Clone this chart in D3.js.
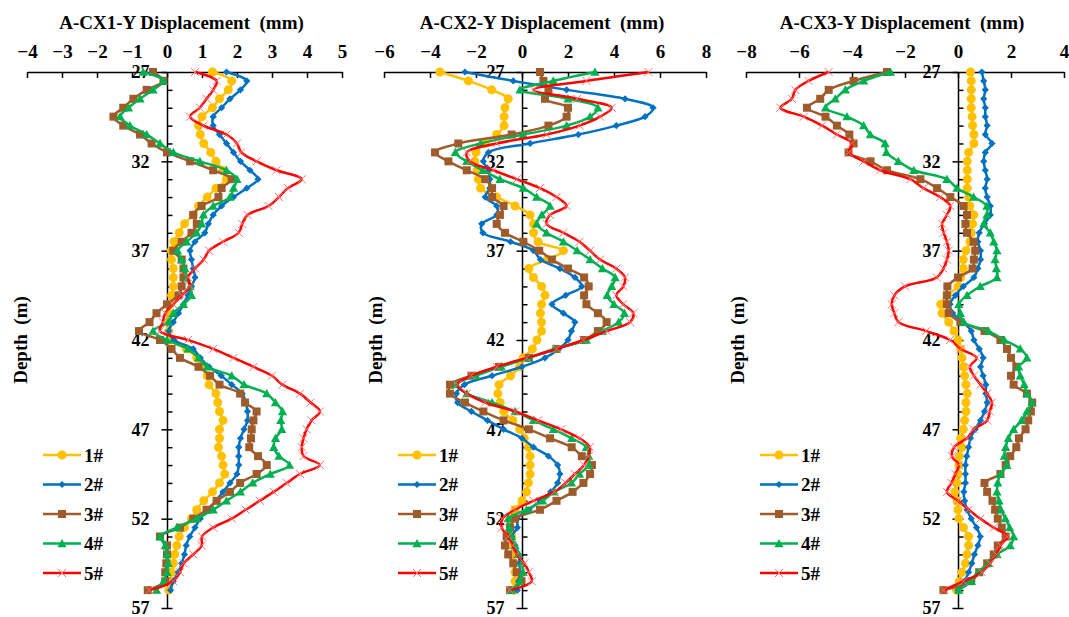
<!DOCTYPE html>
<html>
<head>
<meta charset="utf-8">
<script src="https://cdn.jsdelivr.net/npm/d3@7/dist/d3.min.js"></script>
<style>
  html, body { margin: 0; padding: 0; background: #fff; }
  svg { display: block; }
  text { font-family: "Liberation Serif", "Times New Roman", serif; font-weight: bold; fill: #000; white-space: pre; }
</style>
</head>
<body>
<svg id="chart" width="1069" height="617"></svg>
<script>
// depth of each reading (m)
const depth = [27, 27.5, 28, 28.5, 29, 29.5, 30, 30.5, 31, 31.5, 32, 32.5, 33, 33.5, 34, 34.5,
  35, 35.5, 36, 36.5, 37, 37.5, 38, 38.5, 39, 39.5, 40, 40.5, 41, 41.5, 42, 42.5, 43, 43.5,
  44, 44.5, 45, 45.5, 46, 46.5, 47, 47.5, 48, 48.5, 49, 49.5, 50, 50.5, 51, 51.5, 52, 52.5,
  53, 53.5, 54, 54.5, 55, 55.5, 56];

const seriesNames = ['1#', '2#', '3#', '4#', '5#'];
const depthTicks = [27, 32, 37, 42, 47, 52, 57];

// A-CX1
const cx1_1 = [1.3, 1.85, 1.75, 1.5, 1.3, 1.0, 0.9, 0.95, 1.05, 1.25, 1.4, 1.6, 1.7, 1.4, 1.15,
  0.9, 0.75, 0.5, 0.35, 0.2, 0.12, 0.13, 0.18, 0.18, 0.18, 0.13, 0.08, 0.05, 0.05, 0.05,
  0.1, 0.55, 0.85, 1.0, 1.15, 1.2, 1.4, 1.45, 1.5, 1.6, 1.5, 1.5, 1.47, 1.56, 1.6,
  1.65, 1.5, 1.3, 1.05, 0.85, 0.7, 0.5, 0.35, 0.28, 0.22, 0.18, 0.13, 0.1, 0.05];
const cx1_2 = [1.7, 2.28, 2.1, 1.8, 1.56, 1.32, 1.32, 1.5, 1.7, 1.9, 2.1, 2.37, 2.6, 2.28, 1.9,
  1.56, 1.32, 1.18, 1.08, 0.8, 0.66, 0.7, 0.75, 0.8, 0.7, 0.6, 0.47, 0.33, 0.18, 0.05,
  0.2, 0.75, 0.95, 1.2, 1.55, 1.85, 2.15, 2.25, 2.3, 2.3, 2.2, 2.1, 2.05, 2.05, 2.05,
  2.0, 1.8, 1.6, 1.4, 1.18, 0.95, 0.8, 0.65, 0.55, 0.5, 0.42, 0.32, 0.18, 0.1];
const cx1_3 = [-0.4, -0.1, -0.58, -0.96, -1.25, -1.53, -1.25, -0.77, -0.44, 0.0, 0.66, 1.32, 1.85, 1.56, 1.47,
  0.99, 0.75, 0.85, 0.7, 0.42, 0.18, 0.42, 0.47, 0.47, 0.42, 0.33, 0.0, -0.3, -0.5, -0.8,
  -0.2, 0.13, 0.37, 0.9, 1.23, 1.5, 2.09, 2.23, 2.56, 2.47, 2.42, 2.4, 2.35, 2.6, 2.85,
  2.56, 2.09, 1.8, 1.42, 1.13, 0.75, 0.37, -0.2, 0.0, 0.0, -0.02, -0.05, -0.05, -0.55];
const cx1_4 = [-0.68, -0.1, -0.4, -0.77, -1.1, -1.34, -1.06, -0.58, -0.2, 0.18, 0.94, 1.7, 2.0, 1.9, 1.8,
  1.32, 1.04, 0.99, 0.85, 0.56, 0.3, 0.42, 0.51, 0.56, 0.66, 0.7, 0.47, 0.18, 0.04, -0.4,
  0.0, 0.6, 0.9, 1.15, 1.85, 2.2, 2.85, 3.1, 3.3, 3.25, 3.28, 3.1, 3.05, 3.2, 3.5,
  2.95, 2.45, 2.1, 1.7, 1.32, 0.85, 0.28, -0.2, -0.05, 0.0, 0.03, 0.0, -0.1, -0.3];
const cx1_5 = [0.8, 1.42, 1.32, 1.13, 0.94, 0.66, 1.04, 1.7, 2.0, 2.12, 2.56, 3.13, 3.85, 3.45, 3.2,
  2.9, 2.3, 2.15, 2.05, 1.6, 1.2, 1.05, 0.8, 0.6, 0.66, 0.42, 0.18, -0.05, -0.12, -0.2,
  0.6, 1.32, 1.9, 2.47, 3.0, 3.3, 3.8, 4.1, 4.37, 4.13, 3.99, 3.9, 3.85, 3.9, 4.37,
  3.8, 3.42, 3.05, 2.65, 2.25, 1.85, 1.32, 1.0, 0.99, 0.75, 0.48, 0.37, 0.18, -0.5];

// A-CX2
const cx2_1 = [-3.57, -2.33, -1.32, -0.6, -0.74, -0.78, -0.78, -1.1, -1.6, -2.0, -2.05, -1.95, -1.9, -1.8, -1.1,
  -0.3, 0.35, 0.5, 0.5, 0.7, 1.8, 1.1, 0.3, 0.5, 0.85, 1.0, 0.85, 0.8, 0.85, 0.85,
  0.65, 0.45, 0.05, -0.1, -0.5, -1.0, -1.05, -0.95, -0.8, -0.4, -0.1, 0.1, 0.28, 0.35, 0.35,
  0.35, 0.28, 0.2, 0.0, -0.3, -0.5, -0.5, -0.45, -0.4, -0.35, -0.35, -0.3, -0.3, -0.35];
const cx2_2 = [-2.48, -0.38, 1.94, 4.48, 5.7, 5.35, 4.1, 2.45, 0.35, -1.46, -1.68, -1.45, -1.4, -1.4, -1.6,
  -1.1, -1.1, -1.75, -1.7, -0.5, 0.5, 0.8, 1.65, 2.3, 2.6, 1.9, 1.3, 1.8, 2.3, 2.15,
  2.0, 1.6, 1.0, 0.0, -1.3, -2.5, -2.85, -2.8, -2.2, -1.5, -0.8, 0.0, 0.5, 1.15, 1.55,
  1.65, 1.55, 1.25, 0.8, 0.3, -0.2, -0.2, -0.45, -0.3, -0.15, -0.1, -0.1, -0.15, -0.2];
const cx2_3 = [0.78, 0.93, 1.15, 1.0, 2.0, 1.94, 1.15, -0.45, -2.77, -3.78, -3.2, -2.4, -1.6, -1.3, -1.3,
  -0.8, -0.96, -1.1, -0.74, 0.06, 0.75, 1.3, 2.0, 2.7, 2.9, 2.7, 2.8, 3.3, 3.68, 3.3,
  2.7, 1.5, 0.3, -1.0, -2.2, -3.13, -3.13, -2.48, -1.68, -0.8, 0.3, 1.22, 2.16, 2.6, 3.04,
  2.96, 2.67, 2.2, 1.5, 0.78, -0.3, -0.52, -0.67, -0.74, -0.6, -0.38, -0.23, -0.02, -0.52];
const cx2_4 = [3.17, 1.36, -0.09, 2.0, 3.3, 2.96, 1.94, 0.06, -1.8, -2.9, -2.4, -1.7, -0.96, 0.06, 0.64,
  1.22, 0.86, 0.64, 1.07, 1.8, 2.4, 2.96, 3.5, 4.05, 3.9, 3.7, 4.0, 4.45, 4.2, 3.5,
  2.8, 1.4, 0.3, -0.9, -2.0, -2.85, -2.4, -1.3, -0.3, 0.5, 1.36, 2.16, 2.8, 2.9, 2.9,
  2.5, 2.15, 1.4, 0.9, 0.2, -0.6, -0.55, -0.45, -0.3, -0.15, 0.0, 0.05, -0.1, -0.45];
const cx2_5 = [5.5, 2.8, 0.5, 2.4, 3.9, 3.4, 2.5, 1.07, -1.1, -2.4, -2.26, -1.25, -0.23, 0.78, 1.5,
  1.94, 1.22, 1.07, 1.8, 2.5, 2.96, 3.39, 4.1, 4.48, 4.4, 4.1, 4.4, 4.84, 4.7, 3.68,
  2.67, 1.5, 0.2, -1.1, -2.2, -2.8, -2.4, -1.6, -0.3, 0.7, 1.7, 2.5, 2.95, 2.9, 2.7,
  2.3, 1.9, 1.4, 0.5, -0.3, -0.85, -0.88, -0.6, -0.4, -0.23, 0.1, 0.3, 0.42, -0.52];

// A-CX3
const cx3_1 = [0.47, 0.5, 0.5, 0.5, 0.5, 0.53, 0.55, 0.6, 0.6, 0.4, 0.35, 0.35, 0.35, 0.35, 0.4,
  0.45, 0.6, 0.55, 0.5, 0.45, 0.3, 0.2, 0.2, 0.1, 0.0, -0.4, -0.65, -0.6, -0.35, -0.15,
  0.0, 0.1, 0.15, 0.2, 0.25, 0.3, 0.35, 0.3, 0.3, 0.25, 0.2, 0.1, 0.15, 0.05, 0.03,
  0.0, -0.04, -0.12, -0.04, 0.0, 0.03, 0.21, 0.4, 0.4, 0.34, 0.28, 0.15, 0.05, -0.05];
const cx3_2 = [0.9, 0.97, 1.03, 0.97, 1.03, 1.03, 1.1, 1.03, 1.28, 1.03, 0.97, 1.03, 1.1, 1.03, 1.1,
  1.22, 1.22, 1.0, 0.8, 0.75, 0.85, 0.85, 0.75, 0.6, 0.2, -0.1, -0.3, -0.2, 0.2, 0.5,
  0.6, 0.8, 0.95, 0.85, 0.95, 1.05, 1.05, 1.1, 1.0, 0.85, 0.65, 0.47, 0.4, 0.33, 0.28,
  0.28, 0.28, 0.22, 0.25, 0.34, 0.5, 0.7, 0.84, 0.75, 0.62, 0.52, 0.4, 0.25, 0.0];
const cx3_3 = [-2.68, -3.94, -4.88, -5.2, -5.7, -5.0, -4.57, -4.1, -3.94, -4.13, -3.3, -2.68, -1.42, -0.79, -0.29,
  0.21, 0.34, 0.28, 0.34, 0.59, 0.65, 0.6, 0.55, 0.0, -0.4, -0.42, -0.42, -0.35, 0.09, 1.0,
  1.6, 1.85, 2.0, 2.2, 2.0, 2.1, 2.6, 2.8, 2.75, 2.65, 2.55, 2.3, 2.2, 1.97, 1.8,
  1.6, 1.0, 1.1, 1.3, 1.4, 1.5, 1.65, 1.8, 1.5, 1.35, 1.1, 0.8, 0.5, -0.55];
const cx3_4 = [-2.55, -3.56, -4.25, -4.63, -5.0, -4.19, -3.56, -3.31, -2.75, -2.7, -2.25, -1.67, -0.42, -0.04, 0.59,
  1.09, 1.09, 0.97, 1.22, 1.35, 1.47, 1.4, 1.45, 1.47, 0.84, 0.34, 0.03, 0.09, 0.21, 1.15,
  1.75, 2.35, 2.6, 2.29, 2.35, 2.5, 2.6, 2.79, 2.6, 2.4, 2.1, 1.9, 1.8, 1.75, 1.85,
  1.6, 1.5, 1.47, 1.55, 1.62, 1.79, 1.95, 2.1, 1.97, 1.47, 1.15, 0.75, 0.5, 0.03];
const cx3_5 = [-4.88, -5.64, -6.14, -6.27, -6.7, -5.82, -5.13, -4.57, -4.0, -4.13, -3.56, -2.93, -1.8, -1.3, -0.67,
  -0.29, -0.42, -0.6, -0.54, -0.42, -0.35, -0.42, -0.55, -0.8, -2.0, -2.4, -2.5, -2.4, -2.25, -1.2,
  -0.3, 0.1, 0.7, 0.45, 0.6, 0.85, 1.1, 1.28, 1.2, 1.1, 0.6, 0.34, -0.15, -0.23, 0.03,
  -0.1, -0.25, -0.42, 0.0, 0.4, 0.84, 1.35, 1.85, 1.6, 1.45, 1.2, 0.9, 0.21, -0.54];

const colors = ['#FFC000', '#0070C0', '#9E5B2B', '#00B050', '#FF0000'];
const markers = ['circle', 'diamond', 'square', 'triangle', 'cross'];
const FONT = '"Liberation Serif", "Times New Roman", serif';

const panels = [
  { title: 'A-CX1-Y Displacement  (mm)', domain: [-4, 5], range: [27, 342],
    ticks: [-4, -3, -2, -1, 0, 1, 2, 3, 4, 5], data: [cx1_1, cx1_2, cx1_3, cx1_4, cx1_5],
    labelX: 20, legendX: 43 },
  { title: 'A-CX2-Y Displacement  (mm)', domain: [-6, 8], range: [384, 706],
    ticks: [-6, -4, -2, 0, 2, 4, 6, 8], data: [cx2_1, cx2_2, cx2_3, cx2_4, cx2_5],
    labelX: 375, legendX: 398 },
  { title: 'A-CX3-Y Displacement  (mm)', domain: [-8, 4], range: [746, 1064],
    ticks: [-8, -6, -4, -2, 0, 2, 4], data: [cx3_1, cx3_2, cx3_3, cx3_4, cx3_5],
    labelX: 737, legendX: 760 }
];

const svg = d3.select('#chart');
const y = d3.scaleLinear().domain([27, 57]).range([72, 608]);
const fmt = d3.format('');

// Draw one marker shape centred at (cx, cy)
function drawMarker(g, type, color, cx, cy) {
  if (type === 'circle') {
    g.append('circle').attr('cx', cx).attr('cy', cy).attr('r', 4.5).attr('fill', color);
  } else if (type === 'diamond') {
    const s = 3.6;
    g.append('path').attr('d', `M${cx},${cy - s}L${cx + s},${cy}L${cx},${cy + s}L${cx - s},${cy}Z`)
      .attr('fill', color);
  } else if (type === 'square') {
    g.append('rect').attr('x', cx - 4).attr('y', cy - 4).attr('width', 8).attr('height', 8)
      .attr('fill', color);
  } else if (type === 'triangle') {
    const s = 4.6;
    g.append('path').attr('d', `M${cx},${cy - s}L${cx + s},${cy + s * 0.8}L${cx - s},${cy + s * 0.8}Z`)
      .attr('fill', color);
  } else {
    const s = 4;
    g.append('path').attr('d', `M${cx - s},${cy - s}L${cx + s},${cy + s}M${cx - s},${cy + s}L${cx + s},${cy - s}`)
      .attr('stroke', '#FF7070').attr('stroke-width', 1).attr('fill', 'none');
  }
}

panels.forEach(p => {
  const x = d3.scaleLinear().domain(p.domain).range(p.range);
  const x0 = x(0);
  const g = svg.append('g');

  // title
  g.append('text')
    .attr('x', (p.range[0] + p.range[1]) / 2 - 3)
    .attr('y', 29)
    .attr('text-anchor', 'middle')
    .attr('font-family', FONT)
    .style('font-size', '19px')
    .text(p.title);

  // top value axis
  const xAxis = g.append('g')
    .attr('transform', `translate(0,${y(27)})`)
    .call(d3.axisTop(x).tickValues(p.ticks).tickFormat(fmt).tickSize(-6).tickSizeOuter(0).tickPadding(14));
  xAxis.attr('font-family', FONT);
  xAxis.selectAll('path,line').attr('stroke', '#000').attr('stroke-width', 1.5);
  xAxis.selectAll('text').style('font-size', '19px');

  // depth axis (labels + left half of major ticks)
  const yAxis = g.append('g')
    .attr('transform', `translate(${x0},0)`)
    .call(d3.axisLeft(y).tickValues(depthTicks).tickFormat(fmt).tickSize(5.5).tickSizeOuter(0).tickPadding(12));
  yAxis.attr('font-family', FONT);
  yAxis.selectAll('path,line').attr('stroke', '#000').attr('stroke-width', 1.5);
  yAxis.selectAll('text').style('font-size', '18px');

  // right half of ticks (majors and minors every metre)
  const minor = g.append('g')
    .attr('transform', `translate(${x0},0)`)
    .call(d3.axisRight(y).tickValues(d3.range(28, 58)).tickFormat('').tickSize(5.5).tickSizeOuter(0));
  minor.select('.domain').remove();
  minor.selectAll('line').attr('stroke', '#000').attr('stroke-width', 1.5);

  // depth label
  g.append('text')
    .attr('transform', `translate(${p.labelX},${(y(27) + y(57)) / 2}) rotate(-90)`)
    .attr('text-anchor', 'middle')
    .attr('dominant-baseline', 'central')
    .attr('font-family', FONT)
    .style('font-size', '19px')
    .text('Depth  (m)');

  // series
  const line = d3.line()
    .x(d => x(d[1]))
    .y(d => y(d[0]))
    .curve(d3.curveCatmullRom.alpha(0.5));

  p.data.forEach((vals, i) => {
    const pts = depth.map((d, k) => [d, vals[k]]);
    const sg = g.append('g');
    sg.append('path')
      .attr('d', line(pts))
      .attr('fill', 'none')
      .attr('stroke', colors[i])
      .attr('stroke-width', 2.5)
      .attr('stroke-linejoin', 'round');
    pts.forEach(pt => drawMarker(sg, markers[i], colors[i], x(pt[1]), y(pt[0])));
  });

  // legend
  seriesNames.forEach((name, i) => {
    const ly = 455 + i * 29.5;
    const lg = g.append('g');
    lg.append('line')
      .attr('x1', p.legendX).attr('x2', p.legendX + 38)
      .attr('y1', ly).attr('y2', ly)
      .attr('stroke', colors[i]).attr('stroke-width', 2.5);
    drawMarker(lg, markers[i], colors[i], p.legendX + 19, ly);
    lg.append('text')
      .attr('x', p.legendX + 41)
      .attr('y', ly)
      .attr('dominant-baseline', 'central')
      .attr('font-family', FONT)
      .style('font-size', '19px')
      .text(name);
  });
});
</script>
</body>
</html>
